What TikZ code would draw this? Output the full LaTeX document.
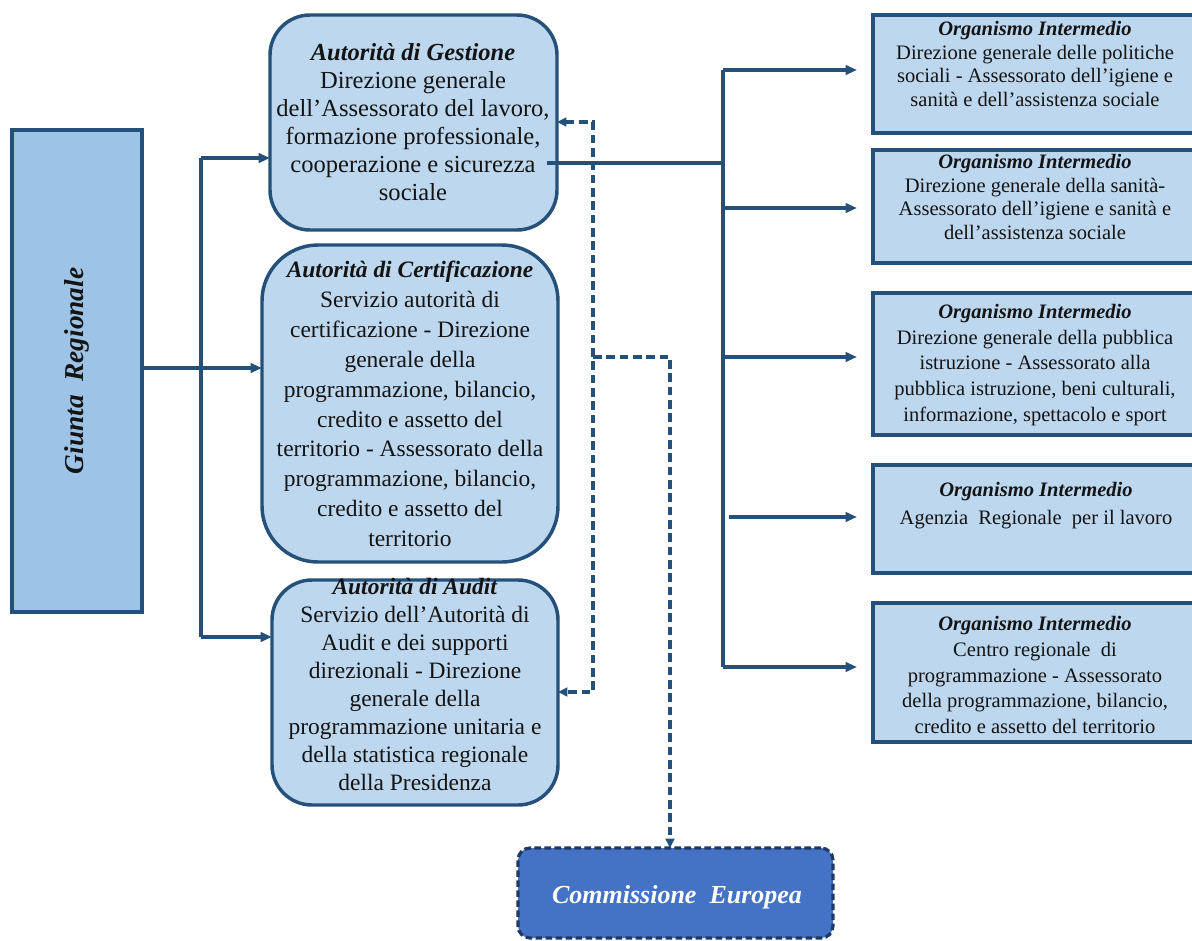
\documentclass[tikz,border=0pt]{standalone}
\usepackage{fontspec}
\setmainfont{Liberation Serif}
\usetikzlibrary{arrows.meta,calc}
\definecolor{boxfill}{HTML}{BDD7EE}
\definecolor{gfill}{HTML}{9DC3E6}
\definecolor{edge}{HTML}{24507A}
\definecolor{cefill}{HTML}{4472C4}
\definecolor{ceedge}{HTML}{1F3864}
\definecolor{ink}{HTML}{141414}
\newcommand\bititle[1]{\textbf{\textit{#1}}}
\tikzset{
  wh/.style n args={2}{minimum width=#1*0.75pt, minimum height=#2*0.75pt},
  basebox/.style={inner sep=0pt, outer sep=0pt},
  gbox/.style={basebox, draw=edge, fill=gfill, line width=3.4pt},
  abox/.style={basebox, draw=edge, fill=boxfill, line width=2.6pt},
  obox/.style={basebox, draw=edge, fill=boxfill, line width=2.4pt},
  cebox/.style={basebox, draw=ceedge, fill=cefill, line width=2.4pt, dash pattern=on 5pt off 2.5pt, rounded corners=9pt},
  ltext/.style={align=center, inner sep=0pt, text=ink, font=\fontsize{17.6pt}{21pt}\selectfont},
  rtext/.style={align=center, inner sep=0pt, text=ink, font=\fontsize{15.4pt}{17.8pt}\selectfont},
  conn/.style={draw=edge, line width=2.3pt},
  arr/.style={conn, -{Triangle[length=8.5pt,width=7pt]}},
  dconn/.style={draw=edge, line width=2.3pt, dash pattern=on 6.5pt off 3.5pt},
}
\begin{document}
\begin{tikzpicture}[x=0.75pt, y=-0.75pt]
\useasboundingbox (0,0) rectangle (1192,940);
\fill[white] (0,0) rectangle (1192,940);

% Left column
\node[gbox, wh={130}{482}] (G) at (77,371) {};
\node[rotate=90, inner sep=0pt, text=ink, font=\fontsize{20.5pt}{24pt}\selectfont\bfseries\itshape] (Gt) at (G.center) {Giunta\ \ Regionale};

% Authorities
\node[abox, wh={287}{215}, rounded corners=30pt] (AG) at (413.5,122.5) {};
\node[ltext, font=\fontsize{18.4pt}{21pt}\selectfont] (AGt) at (413,122) {\bititle{Autorità di Gestione}\\Direzione generale\\dell’Assessorato del lavoro,\\formazione professionale,\\cooperazione e sicurezza\\sociale};

\node[abox, wh={296}{317}, rounded corners=42pt] (AC) at (410,403.5) {};
\node[ltext, font=\fontsize{17.6pt}{22.4pt}\selectfont] (ACt) at (410,404) {\bititle{Autorità di Certificazione}\\Servizio autorità di\\certificazione - Direzione\\generale della\\programmazione,\ bilancio,\\credito e assetto del\\territorio - Assessorato della\\programmazione,\ bilancio,\\credito e assetto del\\territorio};

\node[abox, wh={286}{225}, rounded corners=30pt] (AA) at (415,692.5) {};
\node[ltext] (AAt) at (415,684) {\bititle{Autorità di Audit}\\Servizio dell’Autorità di\\Audit e dei supporti\\direzionali - Direzione\\generale della\\programmazione\ unitaria e\\della statistica regionale\\della Presidenza};

% Commissione
\node[cebox, wh={315}{90}] (CE) at (675.5,893) {};
\node[inner sep=0pt, text=white, font=\fontsize{19.5pt}{23pt}\selectfont\bfseries\itshape] (CEt) at (677,897) {Commissione\ \ Europea};

% Organismi intermedi
\node[obox, wh={325}{118}] (O1) at (1035.5,74) {};
\node[rtext] (O1t) at (1035,64) {\bititle{Organismo Intermedio}\\Direzione\ generale\ delle\ politiche\\sociali - Assessorato\ dell’igiene\ e\\sanità e dell’assistenza\ sociale};

\node[obox, wh={325}{113}] (O2) at (1035.5,206.5) {};
\node[rtext] (O2t) at (1035,197) {\bititle{Organismo Intermedio}\\Direzione\ generale della sanità-\\Assessorato\ dell’igiene\ e sanità e\\dell’assistenza\ sociale};

\node[obox, wh={325}{142}] (O3) at (1035.5,364) {};
\node[rtext, font=\fontsize{15.4pt}{19.4pt}\selectfont] (O3t) at (1035,365) {\bititle{Organismo Intermedio}\\Direzione\ generale\ della\ pubblica\\istruzione\ - Assessorato\ alla\\pubblica\ istruzione,\ beni culturali,\\informazione,\ spettacolo\ e sport};

\node[obox, wh={325}{108}] (O4) at (1035.5,519) {};
\node[rtext, font=\fontsize{15.4pt}{21pt}\selectfont] (O4t) at (1036,506) {\bititle{Organismo Intermedio}\\Agenzia\ \ Regionale\ \ per il lavoro};

\node[obox, wh={325}{139}] (O5) at (1035.5,672.5) {};
\node[rtext, font=\fontsize{15.4pt}{19.4pt}\selectfont] (O5t) at (1035,675) {\bititle{Organismo Intermedio}\\Centro regionale\ \ di\\programmazione\ - Assessorato\\della\ programmazione,\ bilancio,\\credito e assetto del territorio};

% Left connectors
\coordinate (j0) at (201,368);
\coordinate (jt) at (201,158);
\coordinate (jb) at (201,637);
\draw[conn] (G.east |- j0) -- (j0);
\draw[arr] (j0) -- (AC.west |- j0);
\draw[conn] (jt) -- (jb);
\draw[arr] (jt) -- (AG.west |- jt);
\draw[arr] (jb) -- (AA.west |- jb);

% Right connectors
\coordinate (r0) at (723,163);
\coordinate (r1) at (723,70);
\coordinate (r2) at (723,208);
\coordinate (r3) at (723,357);
\coordinate (r4) at (729,517);
\coordinate (r5) at (723,667);
\draw[conn] ($(AG.east |- r0)+(-10,0)$) -- (r0);
\draw[conn] (r1) -- (r5);
\draw[arr] (r1) -- ($(O1.west |- r1)+(-16,0)$);
\draw[arr] (r2) -- ($(O2.west |- r2)+(-16,0)$);
\draw[arr] (r3) -- ($(O3.west |- r3)+(-16,0)$);
\draw[arr] (r4) -- ($(O4.west |- r4)+(-16,0)$);
\draw[arr] (r5) -- ($(O5.west |- r5)+(-16,0)$);

% Dashed connectors
\coordinate (d1) at (593,122);
\coordinate (d2) at (593,692);
\coordinate (d3) at (593,357);
\coordinate (d4) at (670,357);
\draw[dconn, {Triangle[length=7pt,width=6.5pt]}-{Triangle[length=7pt,width=6.5pt]}] (AG.east |- d1) -- (d1) -- (d2) -- (AA.east |- d2);
\draw[dconn, -{Triangle[length=7pt,width=6.5pt]}] (d3) -- (d4) -- (d4 |- CE.north);
\end{tikzpicture}
\end{document}
